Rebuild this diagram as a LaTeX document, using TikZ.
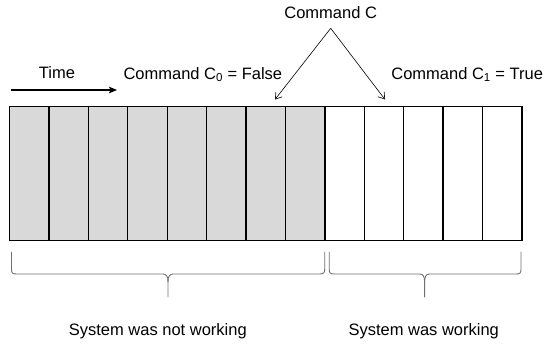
\documentclass[tikz,border=0pt]{standalone}
\usepackage{fontspec}
\setmainfont{Liberation Sans}
\usetikzlibrary{arrows.meta}
\definecolor{offgray}{HTML}{D9D9D9}
\definecolor{bracegray}{HTML}{707070}
% curly brace opening downwards: left end, right end, tip position
\newcommand\drawdownbrace[3]{%
  \draw[brace] (#1,252) -- (#1,269)
    .. controls (#1,273) and (#1+1,274) .. (#1+5,274) -- (#3-5,274)
    .. controls (#3-1.5,274) and (#3,276.5) .. (#3,282) -- (#3,297);
  \draw[brace] (#3,282)
    .. controls (#3,276.5) and (#3+1.5,274) .. (#3+5,274) -- (#2-5,274)
    .. controls (#2-1,274) and (#2,273) .. (#2,269) -- (#2,252);
}
\begin{document}
\begin{tikzpicture}[x=1pt,y=-1pt,
  lbl/.style={font=\fontsize{16.5}{20}\selectfont, inner sep=0pt},
  slot/.style={draw=black, line width=1.3pt, minimum width=39.42pt,
    minimum height=134pt, inner sep=0pt, outer sep=0pt},
  offslot/.style={slot, fill=offgray},
  onslot/.style={slot, fill=white},
  brace/.style={line width=0.9pt, color=bracegray, line cap=round, line join=round},
  pointer/.style={line width=0.6pt, -{Straight Barb[length=6pt,width=8pt]}},
  timearrow/.style={line width=1.3pt, -{Stealth[length=8pt,width=6.5pt,inset=1.5pt]}}]
\useasboundingbox (0,0) rectangle (546,343);

% time slots: eight while the command is false, five once it is true
\foreach \i in {1,...,8}
  \node[offslot] (s\i) at ({9.5+(\i-0.5)*39.42},173.7) {};
\foreach \i in {9,...,13}
  \node[onslot] (s\i) at ({9.5+(\i-0.5)*39.42},173.7) {};

% labels above the slots
\node[lbl, anchor=base] (cmd) at (330.7,18.4) {Command C};
\node[lbl, anchor=base] (time) at (57,78.3) {Time};
\node[lbl, anchor=base west] (cfalse) at (123.3,79) {Command C\textsubscript{0} = False};
\node[lbl, anchor=base east] (ctrue) at (543.2,79) {Command C\textsubscript{1} = True};

% time direction
\coordinate (tstart) at (11,90);
\coordinate (tend) at (117,90);
\draw[timearrow] (tstart) -- (tend);

% command C splits onto the boundary slots
\coordinate (apex) at (330.7,28.3);
\coordinate (pfalse) at (275,99.5);
\coordinate (ptrue) at (385,99.5);
\draw[pointer] (apex) -- (pfalse);
\draw[pointer] (apex) -- (ptrue);

% braces under the slots
\drawdownbrace{11.5}{324.7}{168}
\drawdownbrace{329.2}{521}{424.6}

% captions
\node[lbl, anchor=base] (notworking) at (157.8,335) {System was not working};
\node[lbl, anchor=base] (working) at (423.7,335) {System was working};
\end{tikzpicture}
\end{document}
